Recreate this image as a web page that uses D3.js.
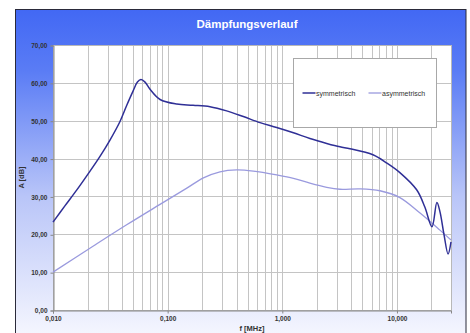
<!DOCTYPE html>
<html>
<head>
<meta charset="utf-8">
<script src="https://cdn.jsdelivr.net/npm/d3@7"></script>
<style>
body { margin:0; background:#ffffff; }
svg { display:block; font-family:"Liberation Sans", Arial, sans-serif; }
</style>
</head>
<body>
<svg id="chart" width="470" height="333"></svg>
<script>

// --------------------------------
// data
// --------------------------------

var seriesNames = ["symmetrisch", "asymmetrisch"];

// frequency [MHz] / attenuation [dB]
var symFreq = [0.010, 0.0127, 0.0162, 0.0206, 0.0257, 0.0314, 0.0384, 0.0439, 0.0499, 0.0545, 0.0585, 0.0635, 0.0702, 0.0858,
               0.120, 0.167, 0.234, 0.327, 0.457, 0.639, 0.893, 1.25, 1.74, 2.44, 3.18, 3.89, 6.17, 8.18, 10.6,
               14.9, 17.5, 20.2, 22.3, 23.7, 25.7, 27.9, 29.6];
var symValues = [23.2, 27.5, 31.8, 36.3, 40.6, 44.9, 49.8, 54.0, 57.8, 60.2, 60.9, 60.2, 58.3, 55.6,
                 54.4, 54.1, 53.7, 52.6, 51.1, 49.5, 48.2, 46.8, 45.3, 44.0, 43.1, 42.6, 41.0, 38.8, 36.3,
                 31.7, 27.2, 22.0, 28.4, 26.0, 20.0, 14.8, 18.0];

var asymFreq = [0.010, 0.0225, 0.0439, 0.0858, 0.147, 0.205, 0.286, 0.400, 0.558, 0.893, 1.25, 1.74,
                2.44, 3.18, 4.76, 7.1, 10.6, 15.9, 23.7, 29.6];
var asymValues = [10.0, 16.9, 22.5, 27.9, 32.2, 34.9, 36.5, 37.0, 36.7, 35.7, 34.8, 33.5,
                  32.4, 31.9, 32.0, 31.5, 29.7, 25.6, 21.1, 18.5];

var xTickValues = [0.01, 0.1, 1, 10];
var xTickLabels = ["0,010", "0,100", "1,000", "10,000"];
var yTickValues = [0, 10, 20, 30, 40, 50, 60, 70];
var yTickLabels = ["0,00", "10,00", "20,00", "30,00", "40,00", "50,00", "60,00", "70,00"];

// --------------------------------
// layout
// --------------------------------

var plot = {left:53, top:45, right:451, bottom:310};
var szSymColor = "#2f2f96";
var szAsymColor = "#9a9ade";
var szGridColor = "#c4c4c4";
var szTextColor = "#333333";

var svg = d3.select("#chart");

// background gradient of the frame
var defs = svg.append("defs");
var bgGradient = defs.append("linearGradient")
	.attr("id", "bgGradient")
	.attr("x1", "0%").attr("y1", "0%")
	.attr("x2", "0%").attr("y2", "100%");
bgGradient.append("stop").attr("offset", "0").attr("style", "stop-color:#4268f4");
bgGradient.append("stop").attr("offset", "0.18").attr("style", "stop-color:#5a7cf5");
bgGradient.append("stop").attr("offset", "0.55").attr("style", "stop-color:#b9c5f8");
bgGradient.append("stop").attr("offset", "1").attr("style", "stop-color:#fbfbff");

svg.append("rect")
	.attr("x", 15.5).attr("y", 9.5)
	.attr("width", 450.5).attr("height", 340)
	.attr("style", "fill:url(#bgGradient);stroke:#2a2a3a;stroke-width:1");

svg.append("text")
	.attr("x", 247).attr("y", 28)
	.attr("style", "font-size:11.5px;font-weight:bold;fill:#ffffff;text-anchor:middle")
	.text("Dämpfungsverlauf");

// --------------------------------
// scales
// --------------------------------

var x = d3.scaleLog().domain([0.01, 29.6]).range([plot.left, plot.right]);
var y = d3.scaleLinear().domain([0, 70]).range([plot.bottom, plot.top]);

// plot area
svg.append("rect")
	.attr("x", plot.left).attr("y", plot.top)
	.attr("width", plot.right - plot.left).attr("height", plot.bottom - plot.top)
	.attr("style", "fill:#ffffff;stroke:none");

// minor + major vertical grid lines (1..9 per decade)
var xGridValues = [];
[0.01, 0.1, 1, 10].forEach(function(d){
	for (var i = 1; i < 10; i++){
		var v = d * i;
		if (v > 0.01 && v < 29.6) xGridValues.push(v);
	}
});

svg.append("g")
	.selectAll("line")
	.data(xGridValues)
	.join("line")
	.attr("x1", function(d){ return Math.round(x(d)) + 0.5; })
	.attr("x2", function(d){ return Math.round(x(d)) + 0.5; })
	.attr("y1", plot.top).attr("y2", plot.bottom)
	.attr("style", "stroke:" + szGridColor + ";stroke-width:1");

svg.append("g")
	.selectAll("line")
	.data(yTickValues.slice(1))
	.join("line")
	.attr("x1", plot.left).attr("x2", plot.right)
	.attr("y1", function(d){ return Math.round(y(d)) + 0.5; })
	.attr("y2", function(d){ return Math.round(y(d)) + 0.5; })
	.attr("style", "stroke:" + szGridColor + ";stroke-width:1");

// right / top frame of the plot
svg.append("rect")
	.attr("x", plot.left + 0.5).attr("y", plot.top + 0.5)
	.attr("width", plot.right - plot.left).attr("height", plot.bottom - plot.top)
	.attr("style", "fill:none;stroke:#b8b8b8;stroke-width:1");

// --------------------------------
// axes
// --------------------------------

var yAxis = d3.axisLeft(y)
	.tickValues(yTickValues)
	.tickSize(3)
	.tickFormat(function(d, i){ return yTickLabels[i]; });

var gy = svg.append("g")
	.attr("transform", "translate(" + (plot.left + 0.5) + ",0.5)")
	.call(yAxis);
gy.select(".domain").attr("stroke", "#888888");
gy.selectAll(".tick line").attr("stroke", "#888888");
gy.selectAll(".tick text")
	.attr("x", -6)
	.attr("style", "font-family:'Liberation Sans',Arial;font-size:6.5px;font-weight:bold;fill:" + szTextColor);

var xAxis = d3.axisBottom(x)
	.tickValues(xTickValues)
	.tickSize(3)
	.tickFormat(function(d, i){ return xTickLabels[i]; });

var gx = svg.append("g")
	.attr("transform", "translate(0," + (plot.bottom + 0.5) + ")")
	.call(xAxis);
gx.select(".domain").attr("stroke", "#888888");
gx.selectAll(".tick line").attr("stroke", "#888888");
gx.selectAll(".tick text")
	.attr("y", 6)
	.attr("style", "font-family:'Liberation Sans',Arial;font-size:6.5px;font-weight:bold;fill:" + szTextColor);

// axis titles
svg.append("text")
	.attr("transform", "translate(24," + ((plot.top + plot.bottom) / 2) + ") rotate(-90)")
	.attr("style", "font-size:7.5px;font-weight:bold;fill:" + szTextColor + ";text-anchor:middle")
	.text("A [dB]");

svg.append("text")
	.attr("x", (plot.left + plot.right) / 2).attr("y", 331)
	.attr("style", "font-size:7.5px;font-weight:bold;fill:" + szTextColor + ";text-anchor:middle")
	.text("f [MHz]");

// --------------------------------
// curves
// --------------------------------

var line = d3.line()
	.x(function(d){ return x(d[0]); })
	.y(function(d){ return y(d[1]); })
	.curve(d3.curveCatmullRom.alpha(0.5));

svg.append("path")
	.datum(d3.zip(asymFreq, asymValues))
	.attr("d", line)
	.attr("style", "fill:none;stroke:" + szAsymColor + ";stroke-width:1.3");

svg.append("path")
	.datum(d3.zip(symFreq, symValues))
	.attr("d", line)
	.attr("style", "fill:none;stroke:" + szSymColor + ";stroke-width:1.5");

// --------------------------------
// legend
// --------------------------------

var legend = svg.append("g").attr("transform", "translate(293.5,58.5)");
legend.append("rect")
	.attr("width", 143).attr("height", 69)
	.attr("style", "fill:#ffffff;stroke:#a8a8a8;stroke-width:1");

var legendItems = [
	{name:seriesNames[0], color:szSymColor, width:1.5, x:9},
	{name:seriesNames[1], color:szAsymColor, width:1.3, x:75}
];

legendItems.forEach(function(d){
	legend.append("line")
		.attr("x1", d.x).attr("x2", d.x + 13)
		.attr("y1", 34.5).attr("y2", 34.5)
		.attr("style", "stroke:" + d.color + ";stroke-width:" + d.width);
	legend.append("text")
		.attr("x", d.x + 13.5).attr("y", 37)
		.attr("style", "font-size:7px;fill:" + szTextColor)
		.text(d.name);
});

</script>
</body>
</html>
